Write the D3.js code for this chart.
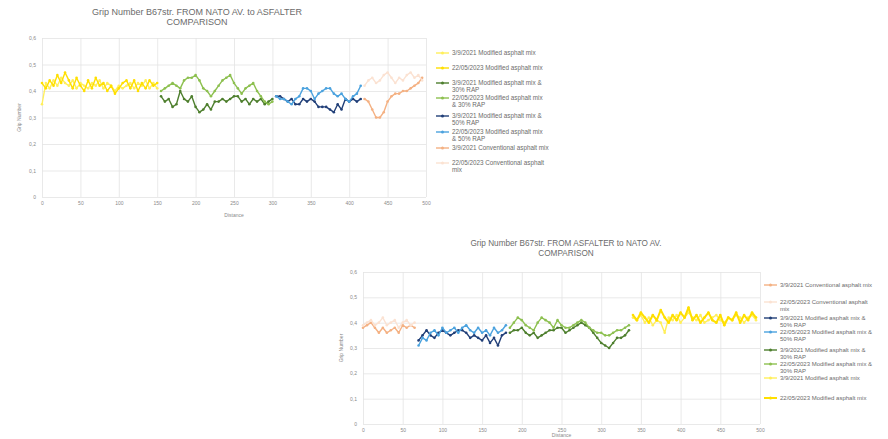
<!DOCTYPE html>
<html lang="en">
<head>
<meta charset="UTF-8">
<title>Grip Number comparison</title>
<style>
  body { margin: 0; background: #fff; }
  svg { display: block; font-family: "Liberation Sans", Arial, sans-serif; }
</style>
</head>
<body>
<script src="https://cdnjs.cloudflare.com/ajax/libs/d3/7.8.2/d3.min.js"></script>
<script>

// ---- chart 1 : NATO AV. -> ASFALTER ----
const distA_yellow = [0,5,10,15,20,25,30,35,40,45,50,55,60,65,70,75,80,85,90,95,100,105,110,115,120,125,130,135,140,145,150]
const gripA_mod21 = [0.35,0.43,0.41,0.44,0.42,0.45,0.43,0.42,0.44,0.41,0.43,0.42,0.41,0.43,0.42,0.44,0.41,0.43,0.42,0.40,0.42,0.41,0.42,0.43,0.41,0.43,0.42,0.44,0.41,0.43,0.41]
const gripA_mod23 = [0.43,0.41,0.44,0.42,0.46,0.43,0.47,0.44,0.41,0.45,0.42,0.40,0.44,0.41,0.45,0.42,0.43,0.40,0.42,0.39,0.41,0.43,0.44,0.41,0.44,0.40,0.43,0.41,0.44,0.42,0.43]

const distA_green = [155,160,165,170,175,180,185,190,195,200,205,210,215,220,225,230,235,240,245,250,255,260,265,270,275,280,285,290,295,300]
const gripA_rap30_21 = [0.38,0.36,0.37,0.34,0.35,0.40,0.37,0.36,0.38,0.34,0.32,0.33,0.35,0.33,0.36,0.36,0.37,0.36,0.37,0.38,0.38,0.36,0.37,0.35,0.37,0.36,0.37,0.35,0.36,0.37]
const gripA_rap30_23 = [0.40,0.41,0.42,0.43,0.42,0.41,0.44,0.45,0.45,0.46,0.44,0.41,0.40,0.38,0.40,0.42,0.44,0.45,0.46,0.43,0.41,0.39,0.41,0.42,0.43,0.40,0.38,0.36,0.35,0.36]

const distA_blue = [305,310,315,320,325,330,335,340,345,350,355,360,365,370,375,380,385,390,395,400,405,410,415]
const gripA_rap50_21 = [0.38,0.38,0.37,0.36,0.37,0.35,0.35,0.37,0.36,0.37,0.36,0.34,0.34,0.34,0.33,0.32,0.35,0.33,0.37,0.36,0.37,0.36,0.37]
const gripA_rap50_23 = [0.38,0.37,0.37,0.36,0.35,0.37,0.38,0.41,0.41,0.40,0.37,0.39,0.40,0.41,0.41,0.39,0.38,0.39,0.37,0.36,0.38,0.39,0.42]

const distA_orange = [420,425,430,435,440,445,450,455,460,465,470,475,480,485,490,495]
const gripA_conv21 = [0.37,0.36,0.33,0.30,0.30,0.32,0.36,0.38,0.39,0.39,0.40,0.40,0.41,0.42,0.43,0.45]
const gripA_conv23 = [0.42,0.44,0.45,0.43,0.44,0.46,0.47,0.45,0.43,0.45,0.44,0.46,0.47,0.45,0.46,0.44]

// ---- chart 2 : ASFALTER -> NATO AV. ----
const distB_orange = [0,5,10,15,20,25,30,35,40,45,50,55,60,65]
const gripB_conv21 = [0.38,0.39,0.40,0.38,0.36,0.38,0.36,0.37,0.38,0.36,0.39,0.38,0.39,0.38]
const gripB_conv23 = [0.39,0.40,0.41,0.39,0.40,0.42,0.39,0.40,0.41,0.38,0.40,0.41,0.39,0.40]

const distB_blue = [70,75,80,85,90,95,100,105,110,115,120,125,130,135,140,145,150,155,160,165,170,175,180]
const gripB_rap50_21 = [0.33,0.35,0.37,0.35,0.34,0.36,0.37,0.36,0.35,0.36,0.37,0.37,0.36,0.34,0.35,0.34,0.33,0.35,0.32,0.34,0.31,0.35,0.36]
const gripB_rap50_23 = [0.31,0.34,0.33,0.36,0.37,0.35,0.38,0.36,0.37,0.38,0.36,0.38,0.39,0.37,0.36,0.38,0.36,0.37,0.35,0.38,0.36,0.37,0.39]

const distB_green = [185,190,195,200,205,210,215,220,225,230,235,240,245,250,255,260,265,270,275,280,285,290,295,300,305,310,315,320,325,330,335]
const gripB_rap30_21 = [0.36,0.37,0.37,0.38,0.36,0.35,0.36,0.34,0.35,0.36,0.37,0.37,0.38,0.38,0.36,0.37,0.38,0.39,0.40,0.39,0.38,0.36,0.34,0.32,0.31,0.30,0.32,0.34,0.34,0.35,0.37]
const gripB_rap30_23 = [0.38,0.40,0.42,0.41,0.39,0.38,0.37,0.40,0.42,0.41,0.40,0.38,0.41,0.39,0.38,0.38,0.39,0.40,0.41,0.40,0.38,0.37,0.36,0.36,0.35,0.35,0.36,0.37,0.37,0.38,0.39]

const distB_yellow = [340,345,350,355,360,365,370,375,380,385,390,395,400,405,410,415,420,425,430,435,440,445,450,455,460,465,470,475,480,485,490,495]
const gripB_mod21 = [0.42,0.41,0.43,0.40,0.42,0.39,0.41,0.40,0.36,0.42,0.41,0.43,0.40,0.42,0.44,0.42,0.41,0.43,0.40,0.41,0.42,0.43,0.41,0.40,0.42,0.41,0.43,0.42,0.40,0.42,0.43,0.41]
const gripB_mod23 = [0.43,0.41,0.44,0.42,0.40,0.43,0.41,0.45,0.42,0.40,0.43,0.41,0.44,0.42,0.46,0.41,0.43,0.40,0.42,0.44,0.41,0.40,0.43,0.39,0.42,0.41,0.44,0.40,0.43,0.41,0.44,0.42]

const yTicks = [0,0.1,0.2,0.3,0.4,0.5,0.6]
const xTicks = [0,50,100,150,200,250,300,350,400,450,500]

const colors = {
    mod21 : "#FFEF5C", mod23 : "#FFDF00",
    rap30_21 : "#4E7F2E", rap30_23 : "#8DC050",
    rap50_21 : "#213F78", rap50_23 : "#4BA2DE",
    conv21 : "#F4B183", conv23 : "#FBE2D2"
}

const w = 888
const h = 439

let svg = d3.select("body")
    .append("svg")
        .attr("width", w)
        .attr("height", h)

const fmtY = d => d === 0 ? "0" : d3.format(".1f")(d).replace(".", ",")

function drawChart(c) {
    const x = d3.scaleLinear().domain([0, 500]).range([c.left, c.right])
    const y = d3.scaleLinear().domain([0, 0.6]).range([c.bottom, c.top])
    const g = svg.append("g")

    // grid + tick labels
    const ay = g.append("g")
        .attr("transform", `translate(${c.left},0)`)
        .call(d3.axisLeft(y).tickValues(yTicks).tickFormat(fmtY)
            .tickSize(-(c.right - c.left)).tickPadding(6))
    const ax = g.append("g")
        .attr("transform", `translate(0,${c.bottom})`)
        .call(d3.axisBottom(x).tickValues(xTicks)
            .tickSize(-(c.bottom - c.top)).tickPadding(4))
    ;[ay, ax].forEach(a => {
        a.select(".domain").remove()
        a.selectAll("line").attr("stroke", "#e3e3e3").attr("stroke-width", 0.8)
        a.selectAll("text").attr("fill", "#8a8a8a").style("font-size", "5px")
            .style("font-family", "Liberation Sans, Arial, sans-serif")
    })

    // title
    g.append("text")
        .attr("x", c.titleX).attr("y", c.titleY)
        .attr("text-anchor", "middle")
        .attr("fill", "#6b6b6b")
        .style("font-size", c.titleSize + "px")
        .selectAll("tspan")
        .data(c.title)
        .join("tspan")
            .attr("x", c.titleX)
            .attr("dy", (d, i) => i === 0 ? 0 : 10)
            .text(d => d)

    // axis titles
    g.append("text")
        .attr("transform", `translate(${c.yTitleX},${(c.top + c.bottom) / 2}) rotate(-90)`)
        .attr("text-anchor", "middle").attr("fill", "#8a8a8a")
        .style("font-size", "5px")
        .text("Grip Number")
    g.append("text")
        .attr("x", (c.left + c.right) / 2).attr("y", c.xTitleY)
        .attr("text-anchor", "middle").attr("fill", "#8a8a8a")
        .style("font-size", "5px")
        .text("Distance")

    // series
    const line = d3.line().x(d => x(d.d)).y(d => y(d.v))
    c.series.forEach(s => {
        const pts = s.dist.map((d, i) => ({ d : d, v : s.vals[i] }))
        g.append("path")
            .datum(pts)
            .attr("fill", "none")
            .attr("stroke", colors[s.key])
            .attr("stroke-width", s.width || 1.4)
            .attr("stroke-linejoin", "round")
            .attr("d", line)
        g.append("g").selectAll("circle")
            .data(pts)
            .join("circle")
                .attr("cx", d => x(d.d))
                .attr("cy", d => y(d.v))
                .attr("r", 1.3)
                .attr("fill", colors[s.key])
    })

    // legend
    c.legend.forEach((e, i) => {
        const ly = c.legendY[i]
        const col = colors[e.key]
        g.append("line")
            .attr("x1", c.legendX).attr("x2", c.legendX + 13)
            .attr("y1", ly).attr("y2", ly)
            .attr("stroke", col).attr("stroke-width", e.width || 1.4)
        g.append("circle")
            .attr("cx", c.legendX + 6.5).attr("cy", ly).attr("r", 1.5)
            .attr("fill", col)
        g.append("text")
            .attr("y", ly + 2)
            .attr("fill", "#6b6b6b")
            .style("font-size", c.legendSize + "px")
            .selectAll("tspan")
            .data(e.label)
            .join("tspan")
                .attr("x", c.legendX + 16)
                .attr("dy", (d, j) => j === 0 ? 0 : 6.8)
                .text(d => d)
    })
}

const lbl = {
    mod21 : ["3/9/2021 Modified asphalt mix"],
    mod23 : ["22/05/2023 Modified asphalt mix"],
    rap30_21 : ["3/9/2021 Modified asphalt mix &", "30% RAP"],
    rap30_23 : ["22/05/2023 Modified asphalt mix", "& 30% RAP"],
    rap50_21 : ["3/9/2021 Modified asphalt mix &", "50% RAP"],
    rap50_23 : ["22/05/2023 Modified asphalt mix", "& 50% RAP"],
    conv21 : ["3/9/2021 Conventional asphalt mix"],
    conv23 : ["22/05/2023 Conventional asphalt", "mix"]
}

drawChart({
    left : 42, right : 426, top : 38, bottom : 197,
    titleX : 197, titleY : 15, titleSize : 9,
    title : ["Grip Number  B67str. FROM NATO AV. to ASFALTER", "COMPARISON"],
    yTitleX : 21, xTitleY : 217,
    series : [
        { key : "mod21", dist : distA_yellow, vals : gripA_mod21 },
        { key : "mod23", dist : distA_yellow, vals : gripA_mod23 },
        { key : "rap30_21", dist : distA_green, vals : gripA_rap30_21 },
        { key : "rap30_23", dist : distA_green, vals : gripA_rap30_23 },
        { key : "rap50_21", dist : distA_blue, vals : gripA_rap50_21 },
        { key : "rap50_23", dist : distA_blue, vals : gripA_rap50_23 },
        { key : "conv21", dist : distA_orange, vals : gripA_conv21 },
        { key : "conv23", dist : distA_orange, vals : gripA_conv23 }
    ],
    legendX : 436, legendSize : 6.3,
    legendY : [53, 68, 83, 98, 116, 132, 148, 163],
    legend : ["mod21", "mod23", "rap30_21", "rap30_23", "rap50_21", "rap50_23", "conv21", "conv23"]
        .map(k => ({ key : k, label : lbl[k] }))
})

drawChart({
    left : 363, right : 760, top : 272, bottom : 424,
    titleX : 566, titleY : 246, titleSize : 8.2,
    title : ["Grip Number  B67str. FROM ASFALTER to NATO AV.", "COMPARISON"],
    yTitleX : 343, xTitleY : 437,
    series : [
        { key : "conv21", dist : distB_orange, vals : gripB_conv21 },
        { key : "conv23", dist : distB_orange, vals : gripB_conv23 },
        { key : "rap50_21", dist : distB_blue, vals : gripB_rap50_21 },
        { key : "rap50_23", dist : distB_blue, vals : gripB_rap50_23 },
        { key : "rap30_21", dist : distB_green, vals : gripB_rap30_21 },
        { key : "rap30_23", dist : distB_green, vals : gripB_rap30_23 },
        { key : "mod21", dist : distB_yellow, vals : gripB_mod21 },
        { key : "mod23", dist : distB_yellow, vals : gripB_mod23, width : 2 }
    ],
    legendX : 764, legendSize : 6,
    legendY : [285, 302, 318, 332, 350, 364, 378, 398],
    legend : [
        { key : "conv21", label : lbl.conv21 },
        { key : "conv23", label : lbl.conv23 },
        { key : "rap50_21", label : lbl.rap50_21 },
        { key : "rap50_23", label : ["22/05/2023 Modified asphalt mix &", "50% RAP"] },
        { key : "rap30_21", label : lbl.rap30_21 },
        { key : "rap30_23", label : ["22/05/2023 Modified asphalt mix &", "30% RAP"] },
        { key : "mod21", label : lbl.mod21 },
        { key : "mod23", label : lbl.mod23, width : 2 }
    ]
})

</script>
</body>
</html>
